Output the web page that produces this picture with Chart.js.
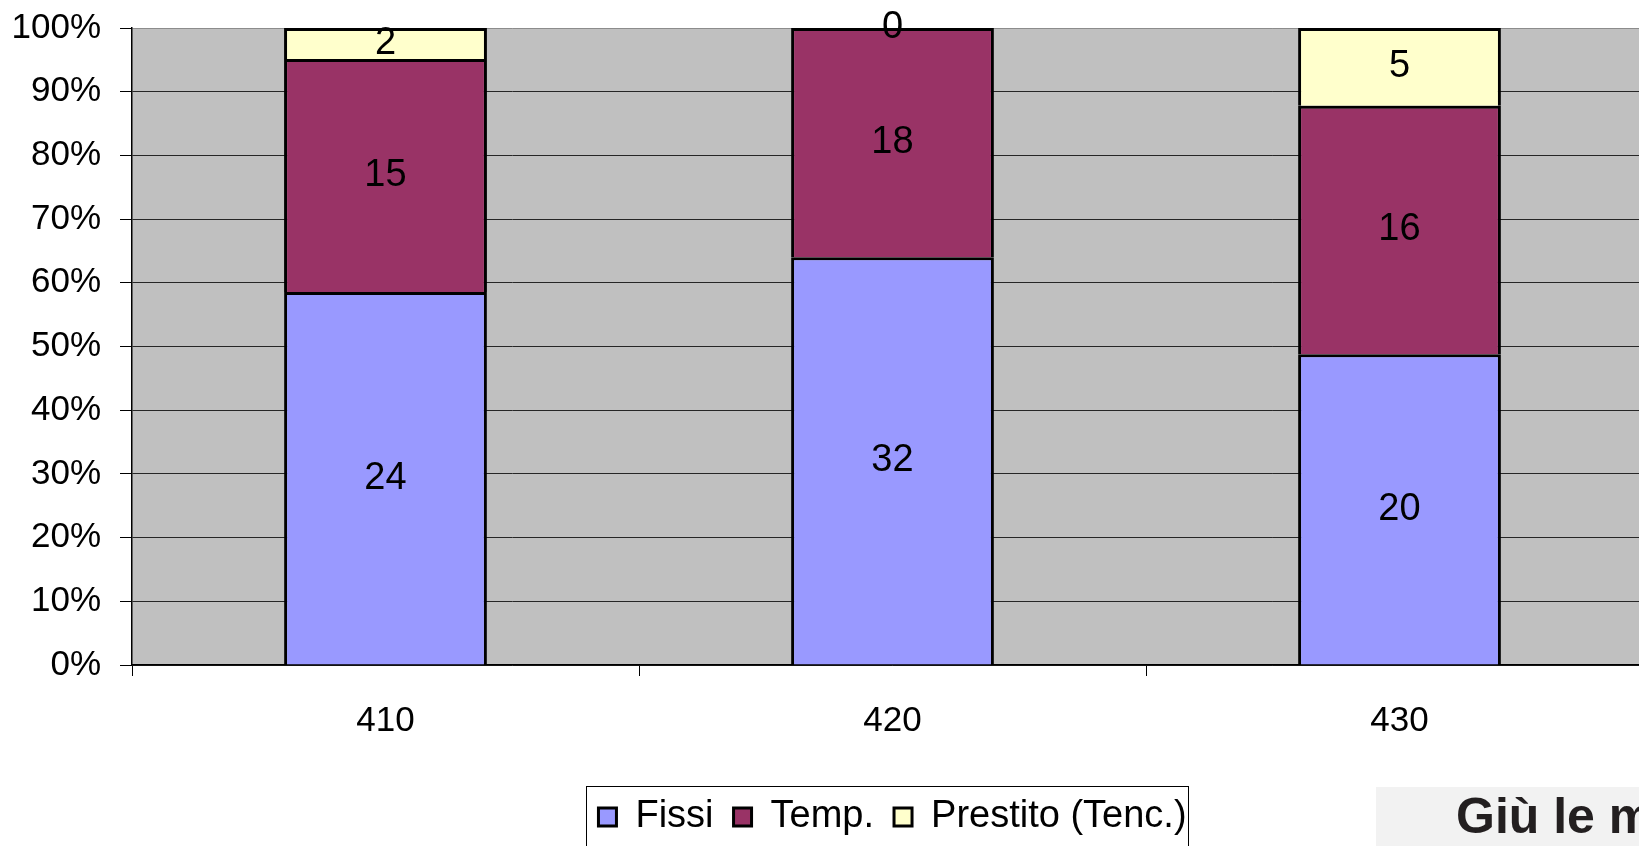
<!DOCTYPE html>
<html>
<head>
<meta charset="utf-8">
<script src="https://cdn.jsdelivr.net/npm/chart.js@4/dist/chart.umd.min.js"></script>
<style>
  html, body { margin: 0; padding: 0; overflow: hidden; background: #ffffff; }
  #wrap { width: 1660px; height: 846px; position: relative; }
</style>
</head>
<body>
<div id="wrap"><canvas id="c" width="1660" height="846"></canvas></div>
<script>
// Staff by department: head counts per contract type
const categories = ['410', '420', '430'];
const fissi = [24, 32, 20];
const temp = [15, 18, 16];
const prestito = [2, 0, 5];
const seriesNames = ['Fissi', 'Temp.', 'Prestito (Tenc.)'];
const yTicks = [0, 10, 20, 30, 40, 50, 60, 70, 80, 90, 100];

const counts = [fissi, temp, prestito];
const totals = categories.map((_, i) => fissi[i] + temp[i] + prestito[i]);
const toPct = arr => arr.map((v, i) => v / totals[i] * 100);

const FONT = '"Liberation Sans", Arial, sans-serif';
Chart.defaults.font.family = FONT;
Chart.defaults.font.size = 35;
Chart.defaults.color = '#000000';

const colors = ['#9999FF', '#993366', '#FFFFCC'];

// grey plot area
const plotBg = {
  id: 'plotBg',
  beforeDraw(chart) {
    const { ctx, chartArea: a } = chart;
    ctx.save();
    ctx.fillStyle = '#C0C0C0';
    ctx.fillRect(a.left, a.top, a.right - a.left, a.bottom - a.top);
    ctx.restore();
  }
};

// head count written in the middle of each segment
const segmentLabels = {
  id: 'segmentLabels',
  afterDatasetsDraw(chart) {
    const { ctx } = chart;
    ctx.save();
    ctx.font = '38px ' + FONT;
    ctx.fillStyle = '#000';
    ctx.textAlign = 'center';
    ctx.textBaseline = 'middle';
    chart.data.datasets.forEach((ds, d) => {
      chart.getDatasetMeta(d).data.forEach((bar, i) => {
        const p = bar.getProps(['x', 'y', 'base'], true);
        ctx.fillText(String(counts[d][i]), p.x, (p.y + p.base) / 2);
      });
    });
    ctx.restore();
  }
};

// frame around the legend and the corner badge
const legendFrame = {
  id: 'legendFrame',
  afterDraw(chart) {
    const { ctx } = chart;
    const lg = chart.legend;
    if (lg && lg.legendHitBoxes && lg.legendHitBoxes.length) {
      const hb = lg.legendHitBoxes;
      const l = Math.min(...hb.map(h => h.left)) - 12;
      const r = Math.max(...hb.map(h => h.left + h.width)) + 2;
      const cy = hb[0].top + hb[0].height / 2;
      const t = cy - 31;
      ctx.save();
      ctx.strokeStyle = '#000';
      ctx.lineWidth = 1;
      ctx.strokeRect(Math.round(l) + 0.5, Math.round(t) + 0.5, Math.round(r - l), 900 - t);
      ctx.restore();
    }
    // badge
    ctx.save();
    ctx.fillStyle = '#F2F2F2';
    ctx.fillRect(1376, 787, 300, 60);
    ctx.fillStyle = '#231F20';
    ctx.font = 'bold 50px "Liberation Sans", Arial, sans-serif';
    ctx.textBaseline = 'alphabetic';
    ctx.textAlign = 'left';
    ctx.fillText('Giù le mani', 1456, 833);
    ctx.restore();
  }
};

new Chart(document.getElementById('c'), {
  type: 'bar',
  data: {
    labels: categories,
    datasets: seriesNames.map((name, d) => ({
      label: name,
      data: toPct(counts[d]),
      backgroundColor: colors[d],
      borderColor: '#000000',
      borderWidth: 3,
      borderSkipped: 'bottom',
      barPercentage: 0.4,
      categoryPercentage: 1.0
    }))
  },
  options: {
    responsive: false,
    animation: false,
    devicePixelRatio: 1,
    layout: { padding: { top: 28, right: 7, bottom: 0, left: 0 } },
    plugins: {
      tooltip: { enabled: false },
      legend: {
        position: 'bottom',
        fullSize: false,
        labels: {
          boxWidth: 18,
          boxHeight: 18,
          padding: 20,
          font: { size: 38 },
          color: '#000'
        }
      }
    },
    scales: {
      x: {
        stacked: true,
        offset: true,
        grid: {
          drawOnChartArea: false,
          drawTicks: true,
          tickLength: 11,
          color: '#000',
          tickColor: '#000'
        },
        border: { display: true, color: '#000', width: 1.5 },
        ticks: { padding: 24, font: { size: 35 }, color: '#000' },
        afterFit(scale) { scale.height = 113; }
      },
      y: {
        stacked: true,
        min: 0,
        max: 100,
        afterBuildTicks(scale) { scale.ticks = yTicks.map(v => ({ value: v })); },
        grid: {
          color: ctx => (ctx.tick && ctx.tick.value === 100) ? '#8C8C8C' : '#262626',
          lineWidth: 1,
          tickLength: 12,
          tickColor: '#000'
        },
        border: { display: true, color: '#000', width: 1.5 },
        ticks: {
          padding: 19,
          font: { size: 35 },
          color: '#000',
          callback: v => v + '%'
        },
        afterFit(scale) {
          scale.width = 132;
          scale.paddingTop = 0;
          scale.paddingBottom = 0;
        }
      }
    }
  },
  plugins: [plotBg, segmentLabels, legendFrame]
});
</script>
</body>
</html>
